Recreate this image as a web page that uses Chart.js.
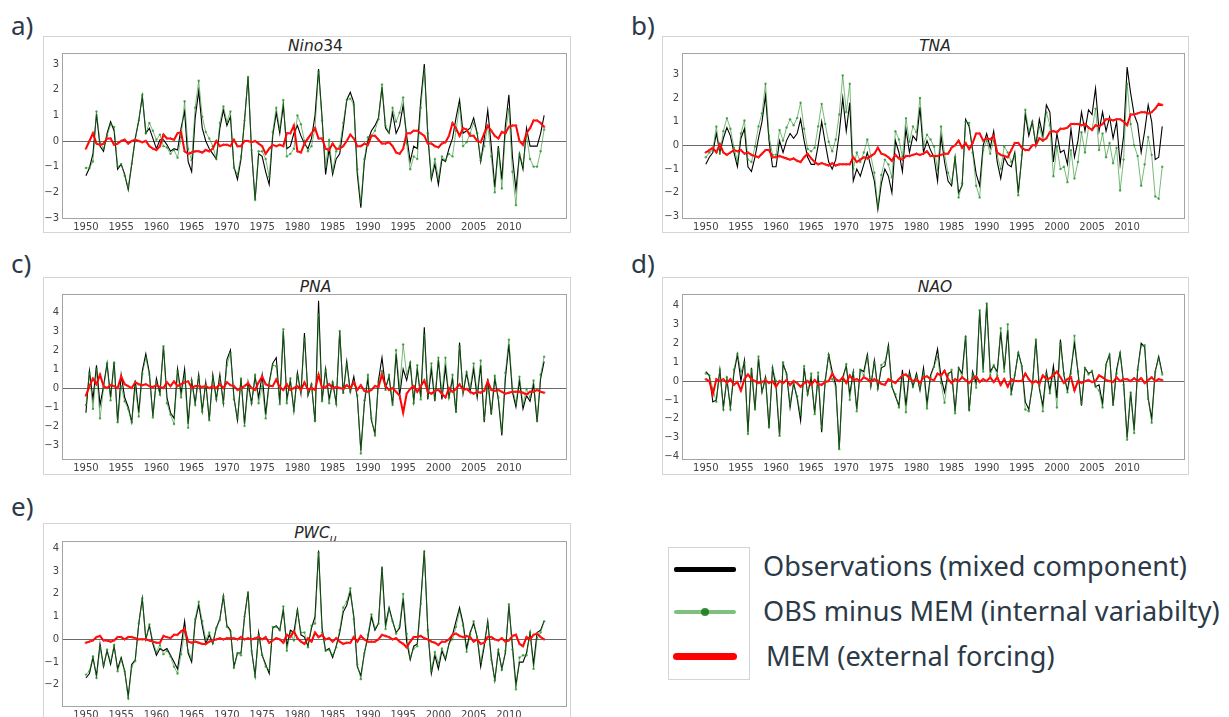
<!DOCTYPE html>
<html lang="en">
<head>
<meta charset="UTF-8" />
<title>Nino34, TNA, PNA, NAO, PWCu: observations, internal variability, external forcing</title>
<script src="https://cdn.jsdelivr.net/npm/chart.js"></script>
<style>
  body { margin: 0; background: #fff; }
  #fig { position: relative; width: 1229px; height: 717px; overflow: hidden; }
  .box { position: absolute; border: 1px solid #d4d4d4; box-sizing: border-box; }
  canvas { position: absolute; }
  .tag { position: absolute; font-family: 'Noto Sans', sans-serif; font-size: 26px; color: #2c3a47; line-height: 1; }
  .ttl { position: absolute; text-align: center; font-family: 'DejaVu Sans', sans-serif; font-size: 15.5px; color: #262626; line-height: 16px; }
  .ttl sub { font-size: 11px; }
  .key { position: absolute; }
  .lab { position: absolute; font-family: 'Noto Sans', sans-serif; color: #2c3a47; line-height: 1; white-space: nowrap; }
</style>
</head>
<body>
<div id="fig">
  <div class="tag" style="left:11px;top:12px">a)</div>
  <div class="tag" style="left:631px;top:12px">b)</div>
  <div class="tag" style="left:11px;top:250px">c)</div>
  <div class="tag" style="left:631px;top:250px">d)</div>
  <div class="tag" style="left:11px;top:493px">e)</div>

  <div class="box" style="left:668px;top:547px;width:82px;height:133px"></div>
  <div class="key" style="left:674px;top:567px;width:62px;height:5px;background:#000;border-radius:2px"></div>
  <div class="key" style="left:674px;top:610px;width:62px;height:4px;background:rgba(40,150,40,0.6);border-radius:2px"></div>
  <div class="key" style="left:701px;top:608px;width:8px;height:8px;background:rgba(20,120,20,0.85);border-radius:50%"></div>
  <div class="key" style="left:673px;top:653px;width:64px;height:7px;background:#ff0000;border-radius:4px"></div>
  <div class="lab" id="l1" style="left:763px">Observations (mixed component)</div>
  <div class="lab" id="l2" style="left:763px">OBS minus MEM (internal variabilty)</div>
  <div class="lab" id="l3" style="left:766px">MEM (external forcing)</div>
</div>
<script>
// half-year time axis, 1950.0 ... 2015.0
const T = Array.from({ length: 131 }, (_, i) => 1950 + i / 2);
const X_TICKS = [1950, 1955, 1960, 1965, 1970, 1975, 1980, 1985, 1990, 1995, 2000, 2005, 2010];

// a) Nino34
const NINO_OBS = [
  -1.35,-1.05, -0.5,1.05, -0.2,-0.4, 0.3,0.75, 0.4,-1.1,
  -0.9,-1.3, -1.9,-0.9, 0.1,0.8, 1.75,0.3, 0.5,0.1,
  -0.3,0.05, 0.05,-0.15, -0.4,-0.3, -0.35,0.5, 1.15,-0.8,
  -1.2,0.9, 1.95,0.5, 0.0,-0.3, -0.5,-0.7, 0.5,1.2,
  0.6,0.95, -1.0,-1.5, -0.7,0.8, 2.5,-0.4, -2.3,-0.5,
  -0.6,-1.2, -1.7,0.2, 1.1,0.3, 1.4,-0.3, -0.2,0.3,
  0.6,0.2, -0.1,-0.3, 0.1,1.0, 2.8,0.9, -1.3,-0.3,
  -1.3,-0.7, -0.5,0.5, 1.6,1.9, 1.5,-1.3, -2.6,-0.8,
  0.0,0.4, 0.6,0.9, 2.1,0.5, 0.3,1.1, 0.3,0.6,
  1.4,0.2, -0.8,-0.2, -0.3,1.6, 3.0,0.2, -1.5,-0.9,
  -1.7,-0.7, -0.8,-0.3, 0.1,0.9, 1.6,0.3, 0.4,0.5,
  0.9,0.3, -0.8,0.1, 1.2,-0.2, -1.8,-0.2, -1.5,0.6,
  1.8,-0.6, -1.9,-0.5, -1.1,0.5, -0.2,-0.2, -0.2,0.3,
  1.0
];
const NINO_INT = [
  -1.05,-1.05, -0.8,1.15, -0.05,-0.3, 0.2,0.65, 0.55,-1.0,
  -0.9,-1.35, -1.8,-0.9, 0.05,0.8, 1.8,0.3, 0.7,0.4,
  0.05,0.25, -0.2,-0.25, -0.5,-0.35, -0.65,0.15, 1.55,-0.3,
  -0.75,1.3, 2.35,0.95, 0.35,0.1, -0.2,-0.7, 0.7,1.35,
  0.75,1.15, -1.05,-1.3, -0.6,0.8, 2.5,-0.35, -2.3,-0.4,
  -0.4,-0.7, -1.4,0.35, 1.3,0.45, 1.6,-0.6, -0.5,-0.3,
  1.0,0.65, 0.0,-0.4, -0.2,0.5, 2.7,0.8, -1.0,0.05,
  -1.2,-0.4, -0.2,0.7, 1.6,1.65, 1.4,-1.1, -2.4,-0.7,
  0.15,0.2, 0.4,0.85, 2.2,0.6, 0.35,1.3, 0.75,1.1,
  1.7,-0.1, -1.1,-0.6, -0.7,1.3, 2.8,0.3, -1.4,-0.7,
  -1.45,-0.6, -0.75,-0.5, -0.6,0.4, 1.4,-0.2, -0.05,0.3,
  0.7,0.3, -0.75,-0.2, 0.6,-0.6, -2.0,-0.3, -1.85,0.3,
  1.25,-1.2, -2.5,-0.5, -0.95,0.2, -0.7,-1.0, -1.0,-0.4,
  0.45
];
const NINO_MEM = [
  -0.3,0.0, 0.3,-0.1, -0.15,-0.1, 0.1,0.1, -0.15,-0.1,
  0.0,0.05, -0.1,0.0, 0.05,0.0, -0.05,0.0, -0.2,-0.3,
  -0.35,-0.2, 0.25,0.1, 0.1,0.05, 0.3,0.35, -0.4,-0.5,
  -0.45,-0.4, -0.4,-0.45, -0.35,-0.4, -0.3,0.0, -0.2,-0.15,
  -0.15,-0.2, 0.05,-0.2, -0.2,0.0, 0.0,-0.05, 0.0,-0.1,
  -0.2,-0.5, -0.3,-0.15, -0.2,-0.15, -0.2,0.3, 0.3,0.6,
  -0.4,-0.45, -0.1,0.1, 0.3,0.5, 0.1,0.1, -0.3,-0.35,
  -0.1,-0.3, -0.3,-0.2, 0.0,0.25, 0.1,-0.2, -0.2,-0.1,
  -0.15,0.2, 0.2,0.05, -0.1,-0.1, -0.05,-0.2, -0.45,-0.5,
  -0.3,0.3, 0.3,0.4, 0.4,0.3, 0.2,-0.1, -0.1,-0.2,
  -0.25,-0.1, -0.05,0.2, 0.7,0.5, 0.2,0.5, 0.45,0.2,
  0.2,0.0, -0.05,0.3, 0.6,0.4, 0.2,0.1, 0.35,0.3,
  0.55,0.6, 0.6,0.0, -0.15,0.3, 0.5,0.8, 0.8,0.7,
  0.55
];

// b) TNA
const TNA_OBS = [
  -0.8,-0.5, -0.3,0.5, -0.3,0.3, 0.75,0.4, -0.3,-0.9,
  0.3,0.7, -0.9,-1.1, -0.5,0.3, 1.0,2.1, 0.2,-0.9,
  -0.9,0.2, -0.3,0.2, 0.5,0.3, 0.5,1.1, 0.2,-0.5,
  -0.8,-0.8, 0.0,1.0, 0.1,-0.7, -1.0,-0.6, 0.5,2.0,
  0.6,1.8, -1.5,-1.0, -1.3,-0.8, -0.3,-0.9, -1.5,-2.7,
  -1.6,-1.0, -1.3,-2.0, 0.2,-0.3, -1.1,0.7, -0.3,0.4,
  0.2,1.6, -0.3,0.2, -0.2,-0.5, -1.5,0.4, -0.7,-1.5,
  -1.7,-0.5, -2.0,-1.7, 1.1,0.8, -0.2,-1.2, -1.7,0.0,
  0.5,-0.1, 0.6,-0.7, -1.4,-0.5, -0.8,-0.9, -0.3,-2.0,
  -0.5,1.3, 0.4,1.0, 0.0,1.1, 0.4,1.7, 1.4,-0.7,
  0.5,-0.3, -0.2,-0.8, 0.7,-0.5, 0.2,1.4, 0.6,1.5,
  1.3,2.4, 0.6,1.4, 0.6,1.2, 0.3,1.0, -0.8,0.4,
  3.3,2.2, 1.3,0.9, -0.3,0.6, 1.7,1.0, -0.6,-0.5,
  0.8
];
const TNA_INT = [
  -0.5,-0.3, -0.2,0.8, -0.35,0.6, 1.15,0.7, -0.1,-0.65,
  0.5,1.05, -0.6,-0.7, -0.05,0.8, 1.35,2.6, 0.4,-0.4,
  -0.4,0.65, 0.2,0.75, 1.1,0.85, 1.15,1.8, 0.7,-0.15,
  -0.25,-0.1, 0.8,1.75, 0.9,0.15, -0.25,0.25, 1.3,2.95,
  1.4,2.6, -1.0,-0.3, -0.7,-0.3, 0.25,-0.45, -1.15,-2.6,
  -1.25,-0.6, -0.8,-1.35, 0.6,0.25, -0.5,1.15, 0.15,0.8,
  0.55,2.0, 0.05,0.45, 0.25,-0.05, -1.05,0.8, -0.35,-1.15,
  -1.6,-0.5, -2.2,-1.6, 1.0,0.95, -0.3,-1.7, -2.2,-0.2,
  0.2,-0.35, 0.2,-0.4, -1.0,-0.05, -0.3,-0.7, -0.4,-2.1,
  -0.4,1.5, 0.6,1.0, 0.0,0.8, 0.2,1.4, 0.85,-1.3,
  -0.05,-1.0, -0.9,-1.55, -0.2,-1.4, -0.7,0.55, -0.3,0.75,
  0.65,1.55, -0.2,0.5, -0.5,0.1, -0.75,-0.1, -1.9,-0.6,
  2.6,0.9, 0.0,-0.45, -1.7,-0.8, 0.35,-0.4, -2.15,-2.25,
  -0.9
];
const TNA_MEM = [
  -0.3,-0.2, -0.1,-0.3, 0.05,-0.3, -0.4,-0.3, -0.2,-0.25,
  -0.2,-0.35, -0.3,-0.4, -0.45,-0.5, -0.35,-0.2, -0.2,-0.5,
  -0.5,-0.45, -0.5,-0.55, -0.6,-0.55, -0.65,-0.7, -0.5,-0.35,
  -0.55,-0.7, -0.8,-0.75, -0.8,-0.85, -0.75,-0.85, -0.8,-0.8,
  -0.8,-0.8, -0.5,-0.7, -0.6,-0.5, -0.55,-0.45, -0.35,-0.1,
  -0.35,-0.4, -0.5,-0.65, -0.4,-0.55, -0.6,-0.45, -0.45,-0.4,
  -0.35,-0.4, -0.35,-0.25, -0.45,-0.45, -0.45,-0.4, -0.35,-0.35,
  -0.1,0.0, 0.2,-0.1, 0.1,-0.15, 0.1,0.5, 0.5,0.2,
  0.3,0.25, 0.4,-0.3, -0.4,-0.45, -0.5,-0.2, 0.1,0.1,
  -0.1,-0.2, -0.2,0.0, 0.0,0.3, 0.2,0.3, 0.55,0.6,
  0.55,0.7, 0.7,0.75, 0.9,0.9, 0.9,0.85, 0.9,0.75,
  0.65,0.85, 0.8,0.9, 1.1,1.1, 1.05,1.1, 1.1,1.0,
  0.85,1.3, 1.3,1.35, 1.4,1.4, 1.35,1.4, 1.55,1.75,
  1.7
];

// c) PNA
const PNA_OBS = [
  -1.3,0.9, -0.6,1.2, -0.9,0.1, 1.3,-0.5, 1.4,-1.8,
  0.7,-0.5, -1.0,-1.8, 0.4,-1.3, 0.9,1.8, 0.8,-1.5,
  0.5,-0.3, 2.2,-0.5, -1.3,-1.6, 1.0,-0.3, 1.0,-1.9,
  0.4,-0.8, 0.7,-1.2, 0.3,-1.7, 0.7,-0.6, 0.7,-0.8,
  1.5,2.0, -0.5,-1.7, 0.5,-1.9, 0.3,-0.8, 0.6,-0.5,
  0.7,-1.4, 0.3,1.3, 1.6,-0.8, 3.0,-0.6, 0.4,-1.2,
  0.8,-0.3, 2.9,-0.4, 0.2,-1.8, 4.6,-0.7, 1.0,-0.6,
  0.3,-0.8, 3.0,-0.3, 1.4,-0.2, 0.6,-0.5, -3.3,-0.8,
  0.5,-1.7, -2.4,0.4, 1.6,0.0, 0.6,-0.9, 1.8,-0.4,
  1.0,0.4, 1.3,-0.7, 1.0,-0.5, 3.2,-0.6, 1.0,-0.7,
  1.5,-0.6, 1.1,-0.5, 0.5,-1.3, 2.4,-0.3, 0.8,-0.2,
  1.0,-0.5, 1.2,-1.8, 0.5,-1.4, 0.5,-0.6, -2.5,0.5,
  2.3,-0.2, -1.0,0.4, -1.1,-0.4, -0.7,0.2, -1.8,0.5,
  1.4
];
const PNA_INT = [
  -0.9,0.8, -1.1,1.0, -1.6,0.0, 1.3,-0.65, 1.3,-1.8,
  0.1,-0.7, -1.1,-1.8, 0.1,-1.5, 0.75,1.6, 0.7,-1.55,
  0.35,-0.35, 2.2,-0.8, -1.4,-1.9, 0.9,-0.5, 0.7,-2.1,
  0.4,-0.9, 0.6,-1.25, 0.2,-1.7, 0.6,-0.6, 0.5,-0.8,
  1.2,1.85, -0.6,-1.6, 0.5,-2.0, 0.05,-0.8, 0.7,-0.8,
  0.1,-1.6, 0.2,1.2, 1.15,-0.85, 3.1,-0.8, 0.5,-1.2,
  0.7,-0.2, 2.6,-0.3, 0.2,-1.7, 3.9,-0.7, 0.95,-0.8,
  0.3,-0.85, 3.0,-0.25, 1.25,-0.2, 0.3,-0.4, -3.45,-0.65,
  0.7,-1.6, -2.5,0.35, 0.9,-0.1, 0.7,-0.9, 2.0,0.0,
  2.3,0.7, 1.35,-0.8, 1.2,-0.6, 2.8,-0.4, 1.3,-0.55,
  1.6,-0.3, 1.6,-0.5, 0.7,-1.25, 2.2,-0.2, 0.85,0.0,
  1.3,-0.3, 1.45,-1.65, 0.15,-1.3, 0.65,-0.5, -2.3,0.8,
  2.55,0.0, -0.8,0.6, -0.85,-0.05, -0.5,0.4, -1.7,0.7,
  1.65
];
const PNA_MEM = [
  -0.4,0.1, 0.5,0.2, 0.7,0.1, 0.0,0.15, 0.1,0.0,
  0.6,0.2, 0.1,0.0, 0.3,0.2, 0.15,0.2, 0.1,0.05,
  0.15,0.05, 0.0,0.3, 0.1,0.35, 0.1,0.2, 0.3,0.35,
  0.0,0.1, 0.1,0.05, 0.1,0.0, 0.1,0.0, 0.2,0.0,
  0.3,0.15, 0.1,-0.1, 0.0,0.1, 0.25,0.0, -0.1,0.3,
  0.6,0.2, 0.1,0.1, 0.45,0.05, -0.1,0.2, -0.1,0.0,
  0.1,-0.1, 0.3,-0.1, 0.0,-0.1, 0.7,0.0, 0.05,0.2,
  0.0,0.05, 0.0,-0.05, 0.15,0.0, 0.3,-0.1, 0.15,-0.15,
  -0.2,-0.1, 0.1,0.05, 0.7,0.1, -0.1,0.0, -0.2,-0.4,
  -1.3,-0.3, -0.05,0.1, -0.2,0.1, 0.4,-0.2, -0.3,-0.15,
  -0.1,-0.3, -0.5,0.0, -0.2,-0.05, 0.2,-0.1, -0.05,-0.2,
  -0.3,-0.2, -0.25,-0.15, 0.35,-0.1, -0.15,-0.1, -0.2,-0.3,
  -0.25,-0.2, -0.2,-0.2, -0.25,-0.35, -0.2,-0.2, -0.1,-0.2,
  -0.25
];

// d) NAO
const NAO_OBS = [
  0.5,0.3, -1.1,-1.0, 0.6,-1.4, 0.1,-1.4, 0.4,1.4,
  0.0,1.1, -2.7,0.7, -1.5,1.2, -0.6,0.2, -2.5,0.7,
  -0.3,-2.9, 0.9,0.4, -1.4,-0.1, -0.9,-2.1, 0.7,-0.7,
  0.2,-1.7, 0.3,-2.7, 0.0,1.4, 0.5,-0.2, -3.6,0.2,
  0.8,-0.7, 0.5,-1.5, 0.6,0.5, 1.4,-0.3, 1.1,-0.4,
  0.7,0.8, 1.9,-0.3, -0.8,-1.3, 0.6,-1.3, 0.5,-0.3,
  0.4,-0.5, 0.7,-1.2, 0.3,0.8, 1.7,0.2, -0.6,0.4,
  0.5,-1.6, 0.7,0.4, 2.4,-1.6, 0.5,-0.1, 3.7,0.6,
  4.1,0.5, 0.8,0.5, 2.6,0.6, 2.7,-0.6, 0.3,1.5,
  0.8,-1.1, -1.5,-0.3, 2.2,-0.4, -1.3,0.5, -0.5,0.8,
  -0.9,2.2, 0.3,-0.5, 0.6,2.0, 0.5,-1.3, 0.7,0.4,
  0.5,-0.3, -0.2,-1.2, 0.9,1.4, -1.3,0.6, 1.5,-0.1,
  -3.0,-0.6, -2.6,0.6, 2.0,1.8, -0.9,-2.0, 0.5,1.3,
  0.4
];
const NAO_INT = [
  0.4,0.3, -0.4,-1.1, 0.6,-1.5, 0.2,-1.5, 0.6,1.45,
  0.5,1.0, -2.8,0.6, -1.5,1.3, -0.55,0.15, -2.4,0.7,
  0.0,-2.9, 1.0,0.35, -1.2,-0.1, -0.8,-1.8, 0.8,-0.7,
  0.4,-1.75, 0.45,-2.5, 0.05,1.4, 0.1,-0.3, -3.6,0.0,
  0.9,-1.0, 0.45,-1.6, 0.6,0.3, 1.3,-0.25, 1.0,-0.4,
  0.85,1.0, 1.8,-0.3, -0.7,-1.4, 0.3,-1.65, 0.35,-0.3,
  0.3,-0.4, 0.5,-1.45, 0.2,0.75, 1.3,-0.1, -1.15,0.3,
  0.6,-1.7, 0.7,0.2, 2.35,-1.5, 0.4,-0.35, 3.75,0.5,
  4.1,0.3, 0.85,0.3, 2.8,0.5, 3.0,-0.7, 0.3,1.5,
  0.8,-1.5, -1.6,-0.2, 2.2,-0.25, -1.6,0.4, -0.65,0.5,
  -1.4,2.0, 0.4,-0.6, 0.4,2.4, 0.5,-1.2, 0.7,0.35,
  0.55,-0.3, -0.5,-1.4, 0.85,1.4, -1.25,0.4, 1.5,-0.2,
  -3.1,-0.6, -2.75,0.6, 1.85,1.9, -0.95,-2.2, 0.5,1.2,
  0.35
];
const NAO_MEM = [
  0.1,0.0, -0.7,0.1, 0.0,0.1, -0.1,0.1, -0.2,-0.05,
  -0.5,0.1, 0.35,0.1, 0.0,-0.1, -0.05,0.05, -0.1,0.0,
  -0.3,0.0, -0.1,0.05, -0.2,0.0, -0.1,-0.3, -0.1,0.0,
  -0.2,0.05, -0.15,-0.2, -0.05,0.0, 0.4,0.1, 0.0,0.2,
  -0.1,0.3, 0.05,0.1, 0.0,0.2, 0.1,-0.05, 0.1,0.0,
  -0.15,-0.2, 0.1,0.0, -0.1,0.1, 0.3,0.35, 0.15,0.0,
  0.1,-0.1, 0.2,0.25, 0.1,0.05, 0.4,0.3, 0.55,0.1,
  -0.1,0.1, 0.0,0.2, 0.05,-0.1, 0.1,0.25, -0.05,0.1,
  0.0,0.2, -0.05,0.2, -0.2,0.1, -0.3,0.1, 0.0,0.0,
  0.0,0.4, 0.1,-0.1, 0.0,-0.15, 0.3,0.1, 0.15,0.3,
  0.5,0.2, -0.1,0.1, 0.2,-0.5, 0.0,-0.1, 0.0,0.05,
  -0.05,0.0, 0.3,0.2, 0.05,0.0, -0.05,0.2, 0.0,0.1,
  0.1,0.0, 0.15,0.0, 0.15,-0.1, 0.05,0.2, 0.0,0.1,
  0.05
];

// e) PWC_u
const PWC_OBS = [
  -1.7,-1.5, -0.8,-1.6, -0.2,-1.2, -0.5,-1.1, -0.3,-1.3,
  -0.8,-1.4, -2.5,-1.1, -0.9,0.7, 1.8,0.0, 0.6,-0.2,
  -0.7,-0.4, -0.5,-0.4, -0.7,-1.0, -1.3,-0.3, 0.8,-0.6,
  -1.0,0.8, 1.5,0.6, -0.2,0.2, -0.2,0.5, 0.9,1.9,
  0.6,0.4, -1.2,-0.6, -0.6,1.0, 2.1,-0.5, -1.6,0.3,
  -0.7,-1.1, -1.5,0.5, 0.6,0.4, 1.3,-0.3, 0.4,0.3,
  1.3,0.2, 0.1,-0.3, 0.5,1.0, 3.9,0.5, -0.5,-0.4,
  -0.8,-0.3, 0.3,1.2, 1.5,2.1, 1.0,-1.2, -1.6,-0.6,
  0.1,1.0, 0.4,0.7, 3.2,0.6, 1.4,0.8, 0.3,0.5,
  1.8,-0.1, -0.9,-0.3, -0.2,1.7, 3.9,0.4, -1.5,-0.7,
  -1.3,-0.5, -0.9,-0.2, 0.2,0.8, 1.4,0.7, -0.4,0.3,
  0.7,0.1, -1.2,-0.3, 0.8,-0.8, -1.8,-0.5, -1.3,-0.6,
  1.5,-0.3, -2.0,-1.0, -1.0,-0.6, 0.3,-1.1, 0.3,0.4,
  0.8
];
const PWC_INT = [
  -1.55,-1.4, -0.75,-1.7, -0.35,-1.15, -0.45,-1.0, -0.25,-1.4,
  -0.9,-1.4, -2.6,-1.2, -0.95,0.7, 1.8,0.0, 0.65,-0.1,
  -0.55,-0.25, -0.65,-0.5, -0.75,-1.2, -1.5,-0.65, 0.35,-0.5,
  -0.85,0.9, 1.65,0.8, 0.0,0.3, -0.15,0.5, 0.85,1.9,
  0.55,0.35, -1.25,-0.6, -0.7,1.0, 2.05,-0.5, -1.65,0.2,
  -0.7,-1.2, -1.35,0.55, 0.55,0.4, 1.45,-0.5, 0.3,-0.05,
  1.25,0.3, 0.3,-0.35, 0.6,0.7, 3.8,0.3, -0.5,-0.45,
  -0.7,-0.35, 0.4,1.4, 1.65,2.25, 0.9,-1.1, -1.75,-0.6,
  0.2,1.1, 0.5,0.7, 3.0,0.45, 1.3,0.8, 0.25,0.6,
  2.0,0.25, -0.8,-0.4, -0.3,1.55, 3.85,0.4, -1.4,-0.55,
  -1.05,-0.4, -0.8,-0.2, 0.0,0.55, 1.25,0.6, -0.55,0.2,
  0.8,0.1, -1.0,-0.15, 0.7,-0.9, -1.8,-0.45, -1.35,-0.5,
  1.55,-0.45, -2.2,-0.8, -0.7,-0.7, 0.3,-1.3, 0.05,0.3,
  0.8
];
const PWC_MEM = [
  -0.15,-0.1, -0.05,0.1, 0.15,-0.05, -0.05,-0.1, -0.05,0.1,
  0.1,0.0, 0.1,0.1, 0.05,0.0, 0.0,0.0, -0.05,-0.1,
  -0.15,-0.15, 0.15,0.1, 0.05,0.2, 0.2,0.35, 0.45,-0.1,
  -0.15,-0.1, -0.15,-0.2, -0.2,-0.1, -0.05,0.0, 0.05,0.0,
  0.05,0.05, 0.05,0.0, 0.1,0.0, 0.05,0.0, 0.05,0.1,
  0.0,0.1, -0.15,-0.05, 0.05,0.0, -0.15,0.2, 0.1,0.35,
  0.05,-0.1, -0.2,0.05, -0.1,0.3, 0.1,0.2, 0.0,0.05,
  -0.1,0.05, -0.1,-0.2, -0.15,-0.15, 0.1,-0.1, 0.15,0.0,
  -0.1,-0.1, -0.1,0.0, 0.2,0.15, 0.1,0.0, 0.05,-0.1,
  -0.2,-0.35, -0.1,0.1, 0.1,0.15, 0.05,0.0, -0.1,-0.15,
  -0.25,-0.1, -0.1,0.0, 0.2,0.25, 0.15,0.1, 0.15,0.1,
  -0.1,0.0, -0.2,-0.15, 0.1,0.1, 0.0,-0.05, 0.05,-0.1,
  -0.05,0.15, 0.2,-0.2, -0.3,0.1, 0.0,0.2, 0.25,0.1,
  0.0
];

const X_MIN = 1946.75, X_MAX = 2018.1;

// box = outer frame [left, top, width, height]; plot = axes [left, top, right, bottom]
const panels = [
  { title: '<i>Nino</i>34', ty: 46, obs: NINO_OBS, ivar: NINO_INT, mem: NINO_MEM,
    yMin: -3.0, yMax: 3.39, yTicks: [-3, -2, -1, 0, 1, 2, 3], box: [43, 36, 528, 197], plot: [63, 54, 568, 218] },
  { title: '<i>TNA</i>', ty: 46, obs: TNA_OBS, ivar: TNA_INT, mem: TNA_MEM,
    yMin: -3.06, yMax: 3.85, yTicks: [-3, -2, -1, 0, 1, 2, 3], box: [662, 36, 527, 197], plot: [683, 54, 1187, 218] },
  { title: '<i>PNA</i>', ty: 287, obs: PNA_OBS, ivar: PNA_INT, mem: PNA_MEM,
    yMin: -3.74, yMax: 4.9, yTicks: [-3, -2, -1, 0, 1, 2, 3, 4], box: [43, 277, 528, 198], plot: [63, 295, 568, 459] },
  { title: '<i>NAO</i>', ty: 287, obs: NAO_OBS, ivar: NAO_INT, mem: NAO_MEM,
    yMin: -4.12, yMax: 4.55, yTicks: [-4, -3, -2, -1, 0, 1, 2, 3, 4], box: [662, 277, 527, 198], plot: [683, 295, 1187, 459] },
  { title: '<i>PWC<sub>u</sub></i>', ty: 533, obs: PWC_OBS, ivar: PWC_INT, mem: PWC_MEM,
    yMin: -2.93, yMax: 4.28, yTicks: [-2, -1, 0, 1, 2, 3, 4], box: [43, 523, 528, 200], plot: [63, 542, 568, 706] }
];

const frame = {
  id: 'frame',
  afterDatasetsDraw(chart) {
    const { left, top, right, bottom } = chart.chartArea;
    const g = chart.ctx;
    g.save();
    g.strokeStyle = '#a3a3a3';
    g.lineWidth = 1;
    g.strokeRect(Math.round(left) - 0.5, Math.round(top) - 0.5, Math.round(right - left) + 1, Math.round(bottom - top) + 1);
    g.restore();
  }
};

const fig = document.getElementById('fig');
const tickFont = { family: 'DejaVu Sans', size: 10 };

panels.forEach(p => {
  const [bx, by, bw, bh] = p.box;
  const [pl, pt, pr, pb] = p.plot;

  const box = document.createElement('div');
  box.className = 'box';
  Object.assign(box.style, { left: bx + 'px', top: by + 'px', width: bw + 'px', height: bh + 'px' });
  fig.appendChild(box);

  const t = document.createElement('div');
  t.className = 'ttl';
  t.innerHTML = p.title;
  Object.assign(t.style, { left: pl + 'px', width: (pr - pl) + 'px', top: (p.ty - 8) + 'px' });
  fig.appendChild(t);

  const cv = document.createElement('canvas');
  cv.width = bw; cv.height = bh;
  Object.assign(cv.style, { left: bx + 'px', top: by + 'px', width: bw + 'px', height: bh + 'px' });
  fig.appendChild(cv);

  const pts = v => T.map((x, i) => ({ x, y: v[i] }));

  new Chart(cv, {
    type: 'line',
    data: {
      datasets: [
        { data: pts(p.mem), borderColor: '#ff0000', borderWidth: 2, pointRadius: 1.3, pointStyle: 'cross',
          pointBorderColor: '#ff2020', pointBorderWidth: 1, tension: 0 },
        { data: pts(p.ivar), borderColor: 'rgba(30,140,30,0.6)', borderWidth: 1, pointRadius: 1.2,
          pointBackgroundColor: 'rgba(30,140,30,0.7)', pointBorderWidth: 0, tension: 0 },
        { data: pts(p.obs), borderColor: '#000000', borderWidth: 1.1, pointRadius: 0, tension: 0 }
      ]
    },
    options: {
      responsive: false,
      animation: false,
      devicePixelRatio: 1,
      events: [],
      layout: { padding: { top: pt - by, right: (bx + bw) - pr, left: 0, bottom: 0 } },
      plugins: { legend: { display: false }, tooltip: { enabled: false } },
      scales: {
        x: {
          type: 'linear', min: X_MIN, max: X_MAX,
          afterBuildTicks: s => { s.ticks = X_TICKS.map(v => ({ value: v })); },
          afterFit: s => { s.height = (by + bh) - pb; },
          grid: { display: false, drawTicks: false },
          border: { display: false },
          ticks: { padding: 3, color: '#444', font: tickFont, maxRotation: 0, autoSkip: false, callback: v => String(v) }
        },
        y: {
          min: p.yMin, max: p.yMax,
          afterBuildTicks: s => { s.ticks = p.yTicks.map(v => ({ value: v })); },
          afterFit: s => { s.width = pl - bx; },
          grid: { drawTicks: false, lineWidth: 1, color: c => (c.tick && c.tick.value === 0) ? '#6a6a6a' : 'rgba(0,0,0,0)' },
          border: { display: false },
          ticks: { padding: 4, color: '#444', font: tickFont, callback: v => v < 0 ? '\u2212' + Math.abs(v) : String(v) }
        }
      }
    },
    plugins: [frame]
  });
});

// legend text: size it so the first entry spans the same width as in the figure
const m = document.createElement('canvas').getContext('2d');
m.font = "100px 'Noto Sans'";
const fs = 100 * 424 / m.measureText('Observations (mixed component)').width;
[['l1', 567], ['l2', 612], ['l3', 657]].forEach(([id, cy]) => {
  const el = document.getElementById(id);
  el.style.fontSize = fs + 'px';
  el.style.top = (cy - fs * 0.55) + 'px';
});
</script>
</body>
</html>
